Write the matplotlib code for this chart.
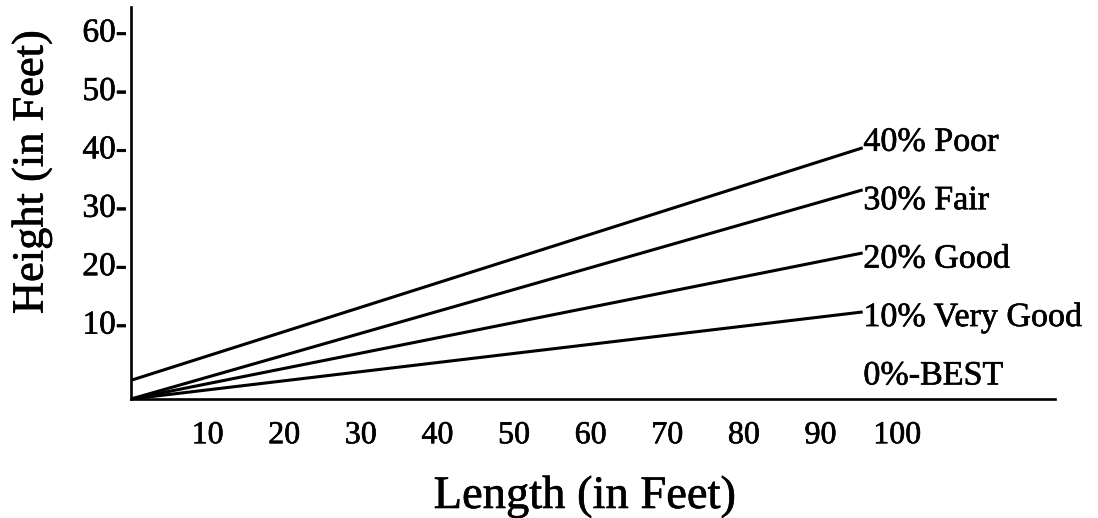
import matplotlib
matplotlib.use("Agg")
import matplotlib.pyplot as plt
import matplotlib.patheffects as pe

# ---- data ----
lengths = [0, 95.5]                       # start / end of each slope line (ft)
slope_labels = ["40% Poor", "30% Fair", "20% Good", "10% Very Good", "0%-BEST"]
slope_levels = [40, 30, 20, 10, 0]        # label reference heights
poor = [0.0, 39.8]
fair = [-3.2, 32.6]
good = [-3.2, 21.8]
very_good = [-3.2, 11.7]
best_level = -3.2                          # the 0% line (baseline)
x_ticks = [10, 20, 30, 40, 50, 60, 70, 80, 90, 100]
x_tick_labels = ["10", "20", "30", "40", "50", "60", "70", "80", "90", "100"]
y_ticks = [10, 20, 30, 40, 50, 60]
y_tick_labels = ["10-", "20-", "30-", "40-", "50-", "60-"]

plt.rcParams["font.family"] = ["Liberation Serif", "DejaVu Serif"]
heavy = [pe.withStroke(linewidth=0.45, foreground="black")]

W, H = 1098, 518
fig = plt.figure(figsize=(W / 100, H / 100), dpi=100)
left, right, top, bottom = 131, 1055, 7, 399
ax = fig.add_axes([left / W, (H - bottom) / H, (right - left) / W, (bottom - top) / H])

ax.set_xlim(0, 120.6)
ax.set_ylim(best_level, 63.9)

lw = 2.2
for series in (poor, fair, good, very_good):
    ax.plot(lengths, series, color="black", lw=lw, solid_capstyle="butt")

for lab, lvl in zip(slope_labels, slope_levels):
    ax.annotate(lab, xy=(lengths[-1], lvl), xytext=(0.5, -3),
                textcoords="offset points", ha="left", va="baseline",
                fontsize=24.5, color="black", path_effects=heavy)

for s in ("top", "right"):
    ax.spines[s].set_visible(False)
for s in ("left", "bottom"):
    ax.spines[s].set_linewidth(1.9)
    ax.spines[s].set_color("black")

ax.set_xticks(x_ticks, x_tick_labels)
ax.set_yticks(y_ticks, y_tick_labels)
ax.tick_params(axis="x", length=0, pad=16, labelsize=23)
ax.tick_params(axis="y", length=0, pad=3, labelsize=24)
for t in ax.get_xticklabels() + ax.get_yticklabels():
    t.set_path_effects(heavy)

ax.set_xlabel("Length (in Feet)", fontsize=33.5, path_effects=heavy)
ax.xaxis.set_label_coords((585 - left) / (right - left), (bottom - 508) / (bottom - top))
ax.xaxis.label.set_va("baseline")

ax.set_ylabel("Height (in Feet)", fontsize=32, path_effects=heavy)
ax.yaxis.set_label_coords((52 - left) / (right - left), (bottom - 172) / (bottom - top))
ax.yaxis.label.set_va("bottom")

fig.savefig("out.png", dpi=100)
